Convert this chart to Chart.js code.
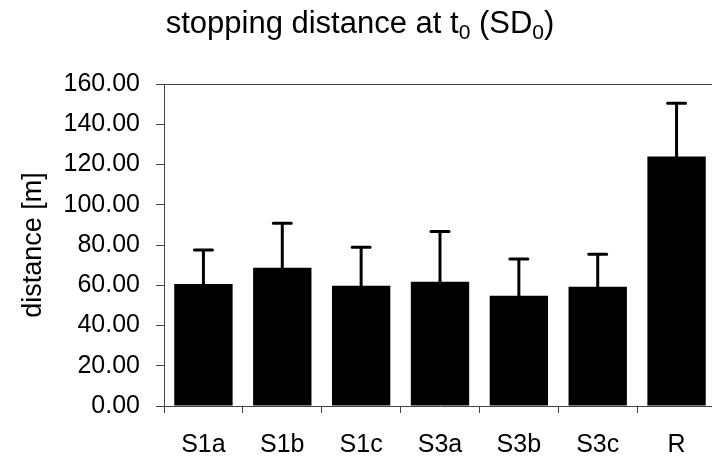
<!DOCTYPE html>
<html>
<head>
<meta charset="utf-8">
<script src="https://cdn.jsdelivr.net/npm/chart.js@4.4.1/dist/chart.umd.min.js"></script>
<style>
html,body{margin:0;padding:0;overflow:hidden;background:#fff;width:712px;height:458px;}
canvas{display:block;}
</style>
</head>
<body>
<canvas id="c" width="720" height="458"></canvas>
<script>
const categories = ["S1a", "S1b", "S1c", "S3a", "S3b", "S3c", "R"];
const meanValues = [60.6, 68.7, 59.7, 61.7, 54.8, 59.3, 124.0];
const errorValues = [16.9, 22.1, 19.2, 25.0, 18.2, 16.1, 26.4];
const yTicks = [0, 20, 40, 60, 80, 100, 120, 140, 160];
const titleParts = [["stopping distance at t", false], ["0", true], [" (SD", false], ["0", true], [")", false]];
const yTitle = "distance [m]";

const FONT = "'Liberation Sans', Arial, sans-serif";

const decor = {
  id: 'decor',
  afterDatasetsDraw(chart) {
    const ctx = chart.ctx;
    const y = chart.scales.y;
    const meta = chart.getDatasetMeta(0);
    ctx.save();
    // error bars (upper only)
    ctx.strokeStyle = '#000';
    ctx.lineWidth = 3;
    ctx.lineCap = 'round';
    meta.data.forEach((bar, i) => {
      const cx = bar.x;
      const y0 = y.getPixelForValue(meanValues[i]);
      const y1 = y.getPixelForValue(meanValues[i] + errorValues[i]);
      ctx.beginPath();
      ctx.moveTo(cx, y0);
      ctx.lineTo(cx, y1);
      ctx.moveTo(cx - 9, y1);
      ctx.lineTo(cx + 9, y1);
      ctx.stroke();
    });
    // top frame line
    const a = chart.chartArea;
    ctx.lineCap = 'butt';
    ctx.lineWidth = 1;
    ctx.strokeStyle = '#444';
    ctx.beginPath();
    ctx.moveTo(a.left, Math.round(a.top) + 0.5);
    ctx.lineTo(a.right, Math.round(a.top) + 0.5);
    ctx.stroke();
    // title with subscripts
    const mainFont = "31px " + FONT;
    const subFont = "21px " + FONT;
    let total = 0;
    titleParts.forEach(([t, sub]) => {
      ctx.font = sub ? subFont : mainFont;
      total += ctx.measureText(t).width;
    });
    let tx = 360 - total / 2;
    const base = 33;
    ctx.fillStyle = '#000';
    ctx.textBaseline = 'alphabetic';
    ctx.textAlign = 'left';
    titleParts.forEach(([t, sub]) => {
      ctx.font = sub ? subFont : mainFont;
      ctx.fillText(t, tx, sub ? base + 6 : base);
      tx += ctx.measureText(t).width;
    });
    ctx.restore();
  }
};

new Chart(document.getElementById('c'), {
  type: 'bar',
  data: {
    labels: categories,
    datasets: [{
      data: meanValues,
      backgroundColor: '#000',
      borderWidth: 0,
      categoryPercentage: 0.74,
      barPercentage: 1.0
    }]
  },
  options: {
    responsive: false,
    animation: false,
    events: [],
    layout: { padding: { top: 84, right: 4, left: 0, bottom: 0 } },
    plugins: { legend: { display: false }, tooltip: { enabled: false }, title: { display: false } },
    scales: {
      x: {
        grid: { display: true, drawOnChartArea: false, drawTicks: true, tickLength: 7, color: '#444', offset: true },
        border: { display: true, color: '#444', width: 1 },
        ticks: { color: '#000', font: { family: FONT, size: 25 }, padding: 17, maxRotation: 0 },
        afterFit(s) { s.height = 52; }
      },
      y: {
        min: 0, max: 160,
        afterBuildTicks(s) { s.ticks = yTicks.map(v => ({ value: v })); },
        grid: { display: true, drawOnChartArea: false, drawTicks: true, tickLength: 8, color: '#444' },
        border: { display: true, color: '#444', width: 1 },
        ticks: { color: '#000', font: { family: FONT, size: 25 }, padding: 16, callback: v => Number(v).toFixed(2) },
        title: { display: true, text: yTitle, color: '#000', font: { family: FONT, size: 27 }, padding: { top: 17, bottom: 0 } },
        afterFit(s) { s.width = 164; }
      }
    }
  },
  plugins: [decor]
});
</script>
</body>
</html>
